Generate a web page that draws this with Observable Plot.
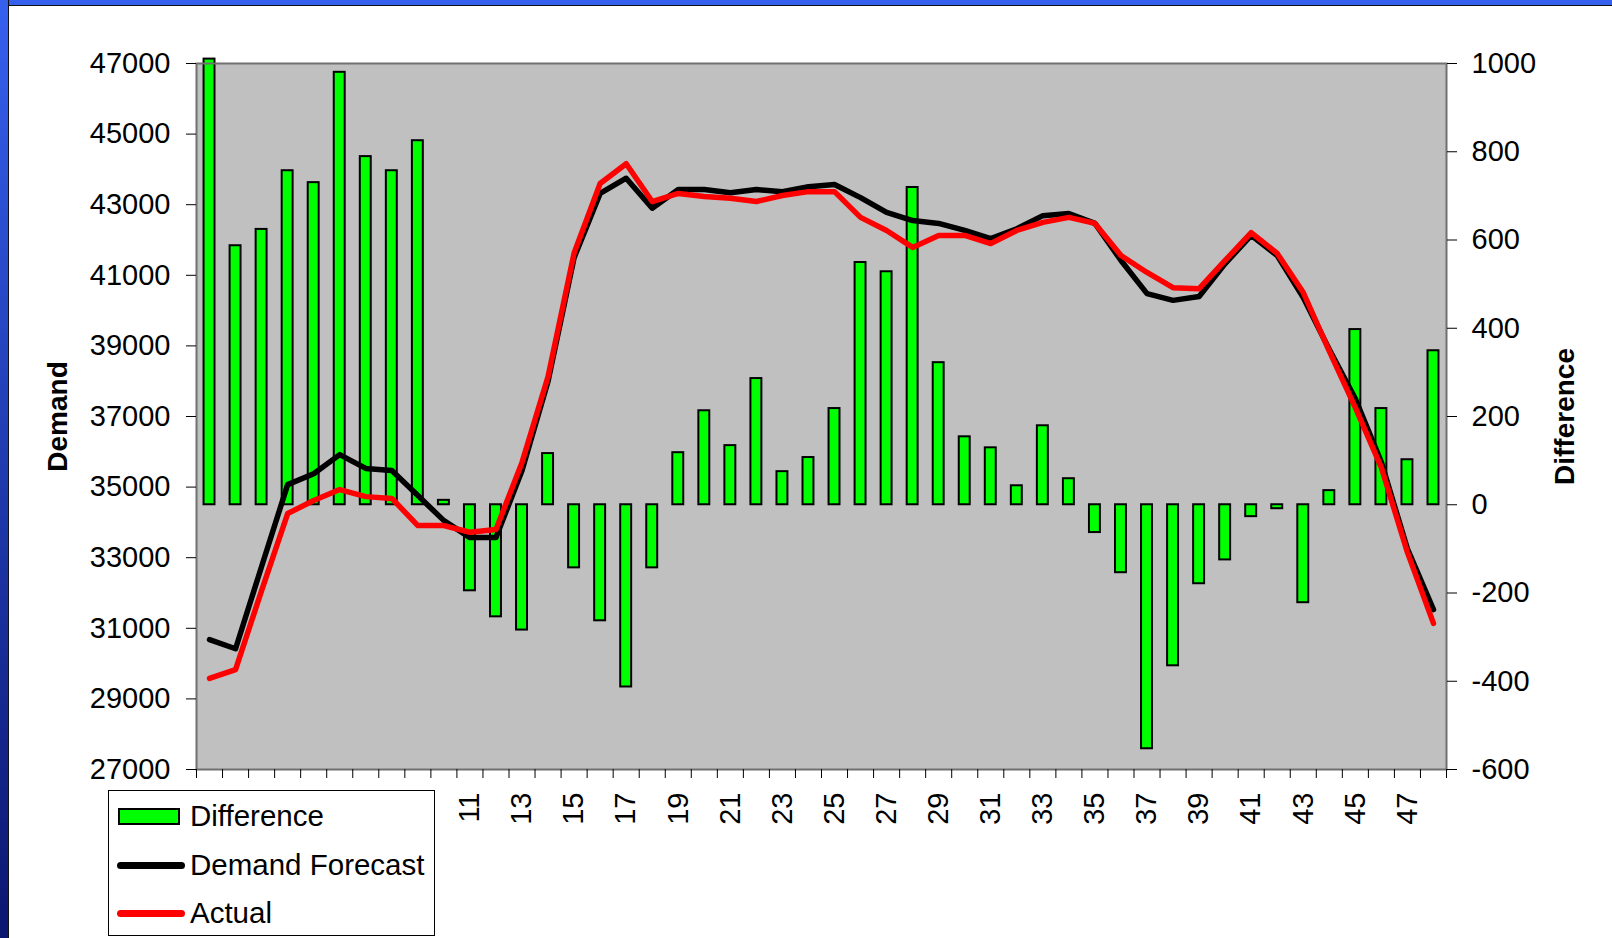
<!DOCTYPE html>
<html><head><meta charset="utf-8">
<script src="https://cdn.jsdelivr.net/npm/d3@7"></script>
<script src="https://cdn.jsdelivr.net/npm/@observablehq/plot@0.6"></script>
<style>
html,body{margin:0;padding:0;background:#fff;width:1612px;height:938px;overflow:hidden;font-family:"Liberation Sans",Arial,sans-serif}
#chart{position:absolute;left:0;top:0}
#topbar{position:absolute;left:0;top:0;width:1612px;height:5px;background:#3560ee;border-bottom:1px solid #111}
#leftbar{position:absolute;left:0;top:0;width:8px;height:938px;background:linear-gradient(#3560ee,#0b1670);border-right:1px solid #111}
#legend{position:absolute;left:108px;top:790px;width:327px;height:146px;background:#fff;border:1px solid #000;box-sizing:border-box}
.item{position:absolute;left:0;width:320px;height:40px;display:flex;align-items:center;font-size:29.5px;color:#000}
.sw{position:absolute;left:9px}
.txt{position:absolute;left:81px;white-space:nowrap}
</style>
</head><body>
<div id="chart"></div>
<div id="topbar"></div>
<div id="leftbar"></div>
<div id="legend">
  <div class="item" style="top:5px"><div class="sw" style="width:58px;height:13px;background:#00ff00;border:2px solid #000"></div><span class="txt">Difference</span></div>
  <div class="item" style="top:54px"><div class="sw" style="left:8px;width:68px;height:7px;background:#000;border-radius:4px"></div><span class="txt">Demand Forecast</span></div>
  <div class="item" style="top:102px"><div class="sw" style="left:8px;width:68px;height:7px;background:#ff0000;border-radius:4px"></div><span class="txt">Actual</span></div>
</div>
<script>
const periods = d3.range(1, 49);
const difference = [1010, 587, 624, 757, 730, 980, 789, 757, 825, 10, -195, -254, -284, 116, -143, -263, -413, -143, 118, 213, 134, 286, 75, 107, 218, 549, 528, 719, 322, 154, 129, 43, 179, 59, -63, -154, -553, -365, -179, -125, -27, -9, -222, 32, 397, 218, 102, 349];
const forecast = [30680, 30420, 32750, 35070, 35380, 35920, 35530, 35470, 34760, 34050, 33570, 33570, 35470, 38000, 41500, 43320, 43750, 42900, 43430, 43430, 43340, 43430, 43370, 43510, 43570, 43200, 42780, 42550, 42470, 42270, 42040, 42320, 42690, 42750, 42470, 41420, 40480, 40290, 40400, 41330, 42130, 41560, 40370, 38900, 37500, 35700, 33250, 31530];
const actual = [29580, 29830, 32070, 34250, 34620, 34930, 34730, 34680, 33910, 33910, 33720, 33800, 35700, 38130, 41630, 43600, 44160, 43090, 43320, 43230, 43180, 43090, 43260, 43370, 43370, 42640, 42270, 41790, 42130, 42130, 41900, 42270, 42500, 42640, 42470, 41560, 41080, 40650, 40620, 41420, 42210, 41620, 40510, 38850, 37250, 35550, 33150, 31140];
const demandTicks = d3.range(27000, 47001, 2000);
const diffTicks = d3.range(-600, 1001, 200);
const xLabels = d3.range(1, 48, 2);

const dMin = 27000, dMax = 47000, fMin = -600, fMax = 1000;
const toDemand = v => dMin + (v - fMin) * (dMax - dMin) / (fMax - fMin);
const fromDemand = y => fMin + (y - dMin) * (fMax - fMin) / (dMax - dMin);

const rows = periods.map((p, i) => ({p, diff: difference[i], forecast: forecast[i], actual: actual[i]}));
const halfBar = 0.21;

const chart = Plot.plot({
  width: 1612, height: 938,
  marginLeft: 196, marginRight: 166, marginTop: 63, marginBottom: 169,
  style: {fontFamily: "'Liberation Sans', Arial, sans-serif", fontSize: "29px", color: "#000", background: "transparent", overflow: "visible"},
  x: {type: "linear", domain: [0.5, 48.5]},
  y: {domain: [dMin, dMax]},
  marks: [
    Plot.frame({fill: "#c0c0c0"}),
    Plot.rectY(rows, {x1: d => d.p - halfBar, x2: d => d.p + halfBar, y1: () => toDemand(0), y2: d => toDemand(d.diff), fill: "#00ff00", stroke: "#000", strokeWidth: 2}),
    Plot.line(rows, {x: "p", y: "forecast", stroke: "#000", strokeWidth: 5.5, strokeLinejoin: "round"}),
    Plot.line(rows, {x: "p", y: "actual", stroke: "#ff0000", strokeWidth: 5.5, strokeLinejoin: "round", strokeLinecap: "round"}),
    Plot.frame({stroke: "#707070", strokeWidth: 2}),
    Plot.axisY({anchor: "left", ticks: demandTicks, tickSize: 10, tickPadding: 16, tickFormat: d => String(d), label: null}),
    Plot.axisY({anchor: "right", ticks: diffTicks.map(toDemand), tickSize: 10, tickPadding: 15, tickFormat: y => String(Math.round(fromDemand(y))), label: null}),
    Plot.axisX({ticks: d3.range(0.5, 48.6, 1), tickSize: 9, tickFormat: () => "", label: null}),
    Plot.axisX({ticks: xLabels, tickSize: 0, tickPadding: 23, tickRotate: -90, tickFormat: d => String(d), label: null}),
    Plot.text(["Demand"], {frameAnchor: "left", dx: -138, rotate: -90, textAnchor: "middle", fontWeight: "bold", fontSize: 28, fill: "#000"}),
    Plot.text(["Difference"], {frameAnchor: "right", dx: 119, rotate: -90, textAnchor: "middle", fontWeight: "bold", fontSize: 28, fill: "#000"})
  ]
});
document.getElementById("chart").appendChild(chart);
</script>
</body></html>
